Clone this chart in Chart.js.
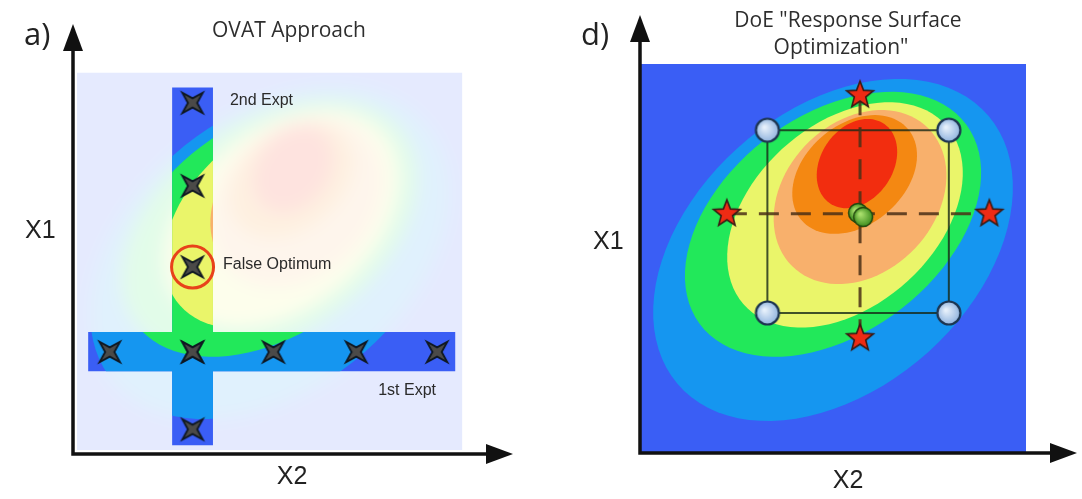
<!DOCTYPE html>
<html>
<head>
<meta charset="utf-8">
<script src="https://cdn.jsdelivr.net/npm/chart.js@4.4.1/dist/chart.umd.min.js"></script>
<style>
  body { margin: 0; background: #fff; }
  #wrap { width: 1082px; height: 499px; display: flex; }
  canvas { display: block; }
</style>
</head>
<body>
<div id="wrap">
  <canvas id="ovat" width="541" height="499"></canvas>
  <canvas id="doe" width="541" height="499"></canvas>
</div>
<script>
// design region runs 0..10 on both factors (X2 across, X1 up)
const regionX2 = [0, 10];
const regionX1 = [0, 10];

// OVAT: 1st experiment varies X2 at fixed X1, 2nd varies X1 at the "best" X2
const exp1X2 = [0.85, 3.0, 5.1, 7.25, 9.35];
const exp1X1 = 2.6;
const exp2X1 = [0.55, 2.6, 4.85, 7.0, 9.2];
const exp2X2 = 3.0;
const falseOptX2 = 3.0;
const falseOptX1 = 4.85;
// stripes of the response surface that the two OVAT runs "see"
const stripeX2 = [[2.47, 3.53], [0.29, 9.82]];
const stripeX1 = [[0.13, 9.61], [2.09, 3.13]];

// central composite design
const cornerX2 = [3.3, 8.0, 8.0, 3.3];
const cornerX1 = [8.3, 8.3, 3.6, 3.6];
const axialX2 = [5.7, 9.05, 5.7, 2.25];
const axialX1 = [9.2, 6.15, 2.95, 6.15];
const centerX2 = [5.65, 5.78];
const centerX1 = [6.17, 6.07];

// response contours (outer -> inner): centre, semi axes, tilt in degrees
const baseColor = "#3a5ef5";
const contourColors = ["#1596f0", "#22e85a", "#eaf56a", "#f8b06c", "#f48812", "#f22d0f"];
const contourX2 = [5.0, 5.0, 5.31, 5.70, 5.56, 5.62];
const contourX1 = [5.22, 5.88, 6.12, 6.58, 7.16, 7.44];
const contourA = [5.3, 4.3, 3.49, 2.5, 1.81, 1.24];
const contourB = [3.6, 2.8, 2.35, 1.94, 1.29, 0.93];
const contourTilt = [40.5, 36.5, 41, 45, 40, 55];

// marker sprites
function sprite(size, draw) {
  const c = document.createElement("canvas");
  c.width = c.height = size;
  const g = c.getContext("2d");
  g.translate(size / 2, size / 2);
  draw(g);
  return c;
}
function starPath(g, n, ro, ri, rot) {
  g.beginPath();
  for (let k = 0; k < n * 2; k++) {
    const r = k % 2 ? ri : ro;
    const a = k * Math.PI / n - Math.PI / 2 + rot;
    g.lineTo(r * Math.cos(a), r * Math.sin(a));
  }
  g.closePath();
}
const crossImg = sprite(34, g => {
  starPath(g, 4, 14.5, 4.6, Math.PI / 4);
  g.fillStyle = "#4b4a48"; g.fill();
  g.lineWidth = 1.8; g.strokeStyle = "#0f1822"; g.stroke();
});
const starImg = sprite(34, g => {
  starPath(g, 5, 14, 6, 0);
  g.fillStyle = "#ee2b14"; g.fill();
  g.lineWidth = 1.6; g.strokeStyle = "#3a1a14"; g.stroke();
});
const cornerImg = sprite(30, g => {
  const gr = g.createRadialGradient(-3, -3, 1, 0, 0, 12);
  gr.addColorStop(0, "#e6f0fb"); gr.addColorStop(1, "#8fb3de");
  g.beginPath(); g.arc(0, 0, 11.5, 0, Math.PI * 2);
  g.fillStyle = gr; g.fill();
  g.lineWidth = 2.2; g.strokeStyle = "#1d3550"; g.stroke();
});
const centerImg = sprite(26, g => {
  const gr = g.createRadialGradient(-3, -3, 1, 0, 0, 10);
  gr.addColorStop(0, "#a9df6c"); gr.addColorStop(1, "#3a8a1c");
  g.beginPath(); g.arc(0, 0, 9.5, 0, Math.PI * 2);
  g.fillStyle = gr; g.fill();
  g.lineWidth = 1.5; g.strokeStyle = "#22470f"; g.stroke();
});

function pts(xs, ys) {
  return xs.map((x, i) => ({ x: x, y: Array.isArray(ys) ? ys[i] : ys }));
}

function rectPath(ctx, chart, x0, x1, y0, y1, pad) {
  const sx = chart.scales.x, sy = chart.scales.y;
  const l = sx.getPixelForValue(x0) - pad, r = sx.getPixelForValue(x1) + pad;
  const t = sy.getPixelForValue(y1) - pad, b = sy.getPixelForValue(y0) + pad;
  ctx.rect(l, t, r - l, b - t);
}
function ellipsePath(ctx, chart, i) {
  const sx = chart.scales.x, sy = chart.scales.y;
  const t = contourTilt[i] * Math.PI / 180;
  ctx.beginPath();
  for (let k = 0; k <= 90; k++) {
    const s = k / 90 * Math.PI * 2;
    const u = contourA[i] * Math.cos(s), v = contourB[i] * Math.sin(s);
    const px = sx.getPixelForValue(contourX2[i] + u * Math.cos(t) - v * Math.sin(t));
    const py = sy.getPixelForValue(contourX1[i] + u * Math.sin(t) + v * Math.cos(t));
    if (k) ctx.lineTo(px, py); else ctx.moveTo(px, py);
  }
  ctx.closePath();
}
function drawField(ctx, chart, pad) {
  ctx.beginPath();
  rectPath(ctx, chart, regionX2[0], regionX2[1], regionX1[0], regionX1[1], pad);
  ctx.fillStyle = baseColor;
  ctx.fill();
  contourColors.forEach((c, i) => {
    ellipsePath(ctx, chart, i);
    ctx.fillStyle = c;
    ctx.fill();
  });
}

function drawAxes(ctx, area) {
  ctx.save();
  ctx.strokeStyle = "#111"; ctx.fillStyle = "#111"; ctx.lineWidth = 3.5;
  ctx.beginPath();
  ctx.moveTo(area.left, area.top + 20);
  ctx.lineTo(area.left, area.bottom);
  ctx.lineTo(area.right - 20, area.bottom);
  ctx.stroke();
  ctx.beginPath();
  ctx.moveTo(area.left, area.top);
  ctx.lineTo(area.left - 10, area.top + 27);
  ctx.lineTo(area.left + 10, area.top + 27);
  ctx.closePath(); ctx.fill();
  ctx.beginPath();
  ctx.moveTo(area.right, area.bottom);
  ctx.lineTo(area.right - 27, area.bottom - 10);
  ctx.lineTo(area.right - 27, area.bottom + 10);
  ctx.closePath(); ctx.fill();
  ctx.restore();
}
function text(ctx, s, x, y, font, color, align, base) {
  ctx.font = font; ctx.fillStyle = color;
  ctx.textAlign = align || "left"; ctx.textBaseline = base || "alphabetic";
  ctx.fillText(s, x, y);
}

const labelFont = "16px 'Liberation Sans', Arial, sans-serif";
const titleFont = "21px 'Open Sans', sans-serif";
const axisFont = "25px 'Liberation Sans', Arial, sans-serif";
const panelFont = "31px 'Open Sans', sans-serif";

const ovatPlugin = {
  id: "ovatField",
  beforeDatasetsDraw(chart) {
    const ctx = chart.ctx;
    // faded view of the unknown response surface
    const off = document.createElement("canvas");
    off.width = chart.width; off.height = chart.height;
    drawField(off.getContext("2d"), chart, 30);
    ctx.save();
    ctx.beginPath();
    rectPath(ctx, chart, regionX2[0], regionX2[1], regionX1[0], regionX1[1], 0);
    ctx.fillStyle = "#fff"; ctx.fill();
    ctx.clip();
    ctx.globalAlpha = 0.13;
    ctx.filter = "blur(9px)";
    ctx.drawImage(off, 0, 0);
    ctx.restore();
    // what the two experiments reveal
    ctx.save();
    ctx.beginPath();
    stripeX2.forEach((sx, i) => rectPath(ctx, chart, sx[0], sx[1], stripeX1[i][0], stripeX1[i][1], 0));
    ctx.clip();
    drawField(ctx, chart, 0);
    ctx.restore();
  },
  afterDraw(chart) {
    const ctx = chart.ctx, sx = chart.scales.x, sy = chart.scales.y;
    drawAxes(ctx, chart.chartArea);
    text(ctx, "a)", 24, 45, panelFont, "#222");
    text(ctx, "OVAT Approach", 289, 37, titleFont, "#2e2e2e", "center");
    text(ctx, "X1", 25, 231, axisFont, "#222", "left", "middle");
    text(ctx, "X2", 292, 477, axisFont, "#222", "center", "middle");
    text(ctx, "2nd Expt", sx.getPixelForValue(3.97), sy.getPixelForValue(9.25), labelFont, "#2a2a2a", "left", "middle");
    text(ctx, "False Optimum", sx.getPixelForValue(3.79), sy.getPixelForValue(4.91), labelFont, "#2a2a2a", "left", "middle");
    text(ctx, "1st Expt", sx.getPixelForValue(7.82), sy.getPixelForValue(1.58), labelFont, "#2a2a2a", "left", "middle");
  }
};

const doePlugin = {
  id: "doeField",
  beforeDatasetsDraw(chart) {
    const ctx = chart.ctx;
    ctx.save();
    ctx.beginPath();
    rectPath(ctx, chart, regionX2[0], regionX2[1], regionX1[0], regionX1[1], 0);
    ctx.clip();
    drawField(ctx, chart, 0);
    ctx.restore();
  },
  afterDraw(chart) {
    const ctx = chart.ctx;
    drawAxes(ctx, chart.chartArea);
    text(ctx, "d)", 40, 45, panelFont, "#222");
    text(ctx, "DoE \"Response Surface", 307, 27, titleFont, "#2e2e2e", "center");
    text(ctx, "Optimization\"", 300, 54, titleFont, "#2e2e2e", "center");
    text(ctx, "X1", 52, 242, axisFont, "#222", "left", "middle");
    text(ctx, "X2", 307, 481, axisFont, "#222", "center", "middle");
  }
};

function baseOptions(xr, yr, pad) {
  return {
    responsive: false,
    animation: false,
    layout: { padding: pad },
    plugins: { legend: { display: false }, tooltip: { enabled: false } },
    scales: {
      x: { type: "linear", min: xr[0], max: xr[1], display: false },
      y: { type: "linear", min: yr[0], max: yr[1], display: false }
    }
  };
}

new Chart(document.getElementById("ovat"), {
  type: "scatter",
  data: {
    datasets: [
      { label: "False Optimum", data: [{ x: falseOptX2, y: falseOptX1 }], pointStyle: "circle",
        pointRadius: 21, borderColor: "#e8421a", borderWidth: 3, backgroundColor: "rgba(0,0,0,0)", order: 1 },
      { label: "1st Expt", data: pts(exp1X2, exp1X1), pointStyle: crossImg, order: 2 },
      { label: "2nd Expt", data: pts(exp2X1.map(() => exp2X2), exp2X1), pointStyle: crossImg, order: 2 }
    ]
  },
  options: baseOptions([-0.104, 11.32], [-0.103, 11.29], { left: 73, right: 28, top: 13, bottom: 45 }),
  plugins: [ovatPlugin]
});

const squareX2 = cornerX2.concat(cornerX2[0]);
const squareX1 = cornerX1.concat(cornerX1[0]);

new Chart(document.getElementById("doe"), {
  type: "scatter",
  data: {
    datasets: [
      { label: "centre", data: pts(centerX2, centerX1), pointStyle: centerImg, order: 1 },
      { label: "axial", data: pts(axialX2, axialX1), pointStyle: starImg, order: 2 },
      { label: "factorial", data: pts(cornerX2, cornerX1), pointStyle: cornerImg, order: 3 },
      { label: "box", data: pts(squareX2, squareX1), showLine: true, pointRadius: 0,
        borderColor: "rgba(22,40,22,0.8)", borderWidth: 2, order: 5 },
      { label: "axis x2", data: pts([axialX2[3], axialX2[1]], [axialX1[3], axialX1[1]]), showLine: true,
        pointRadius: 0, borderColor: "rgba(75,48,22,0.85)", borderWidth: 3, borderDash: [20, 12], order: 4 },
      { label: "axis x1", data: pts([axialX2[0], axialX2[2]], [axialX1[0], axialX1[2]]), showLine: true,
        pointRadius: 0, borderColor: "rgba(75,48,22,0.85)", borderWidth: 3, borderDash: [20, 12], order: 4 }
    ]
  },
  options: baseOptions([0, 11.32], [0, 11.26], { left: 99, right: 5, top: 15, bottom: 46 }),
  plugins: [doePlugin]
});
</script>
</body>
</html>
